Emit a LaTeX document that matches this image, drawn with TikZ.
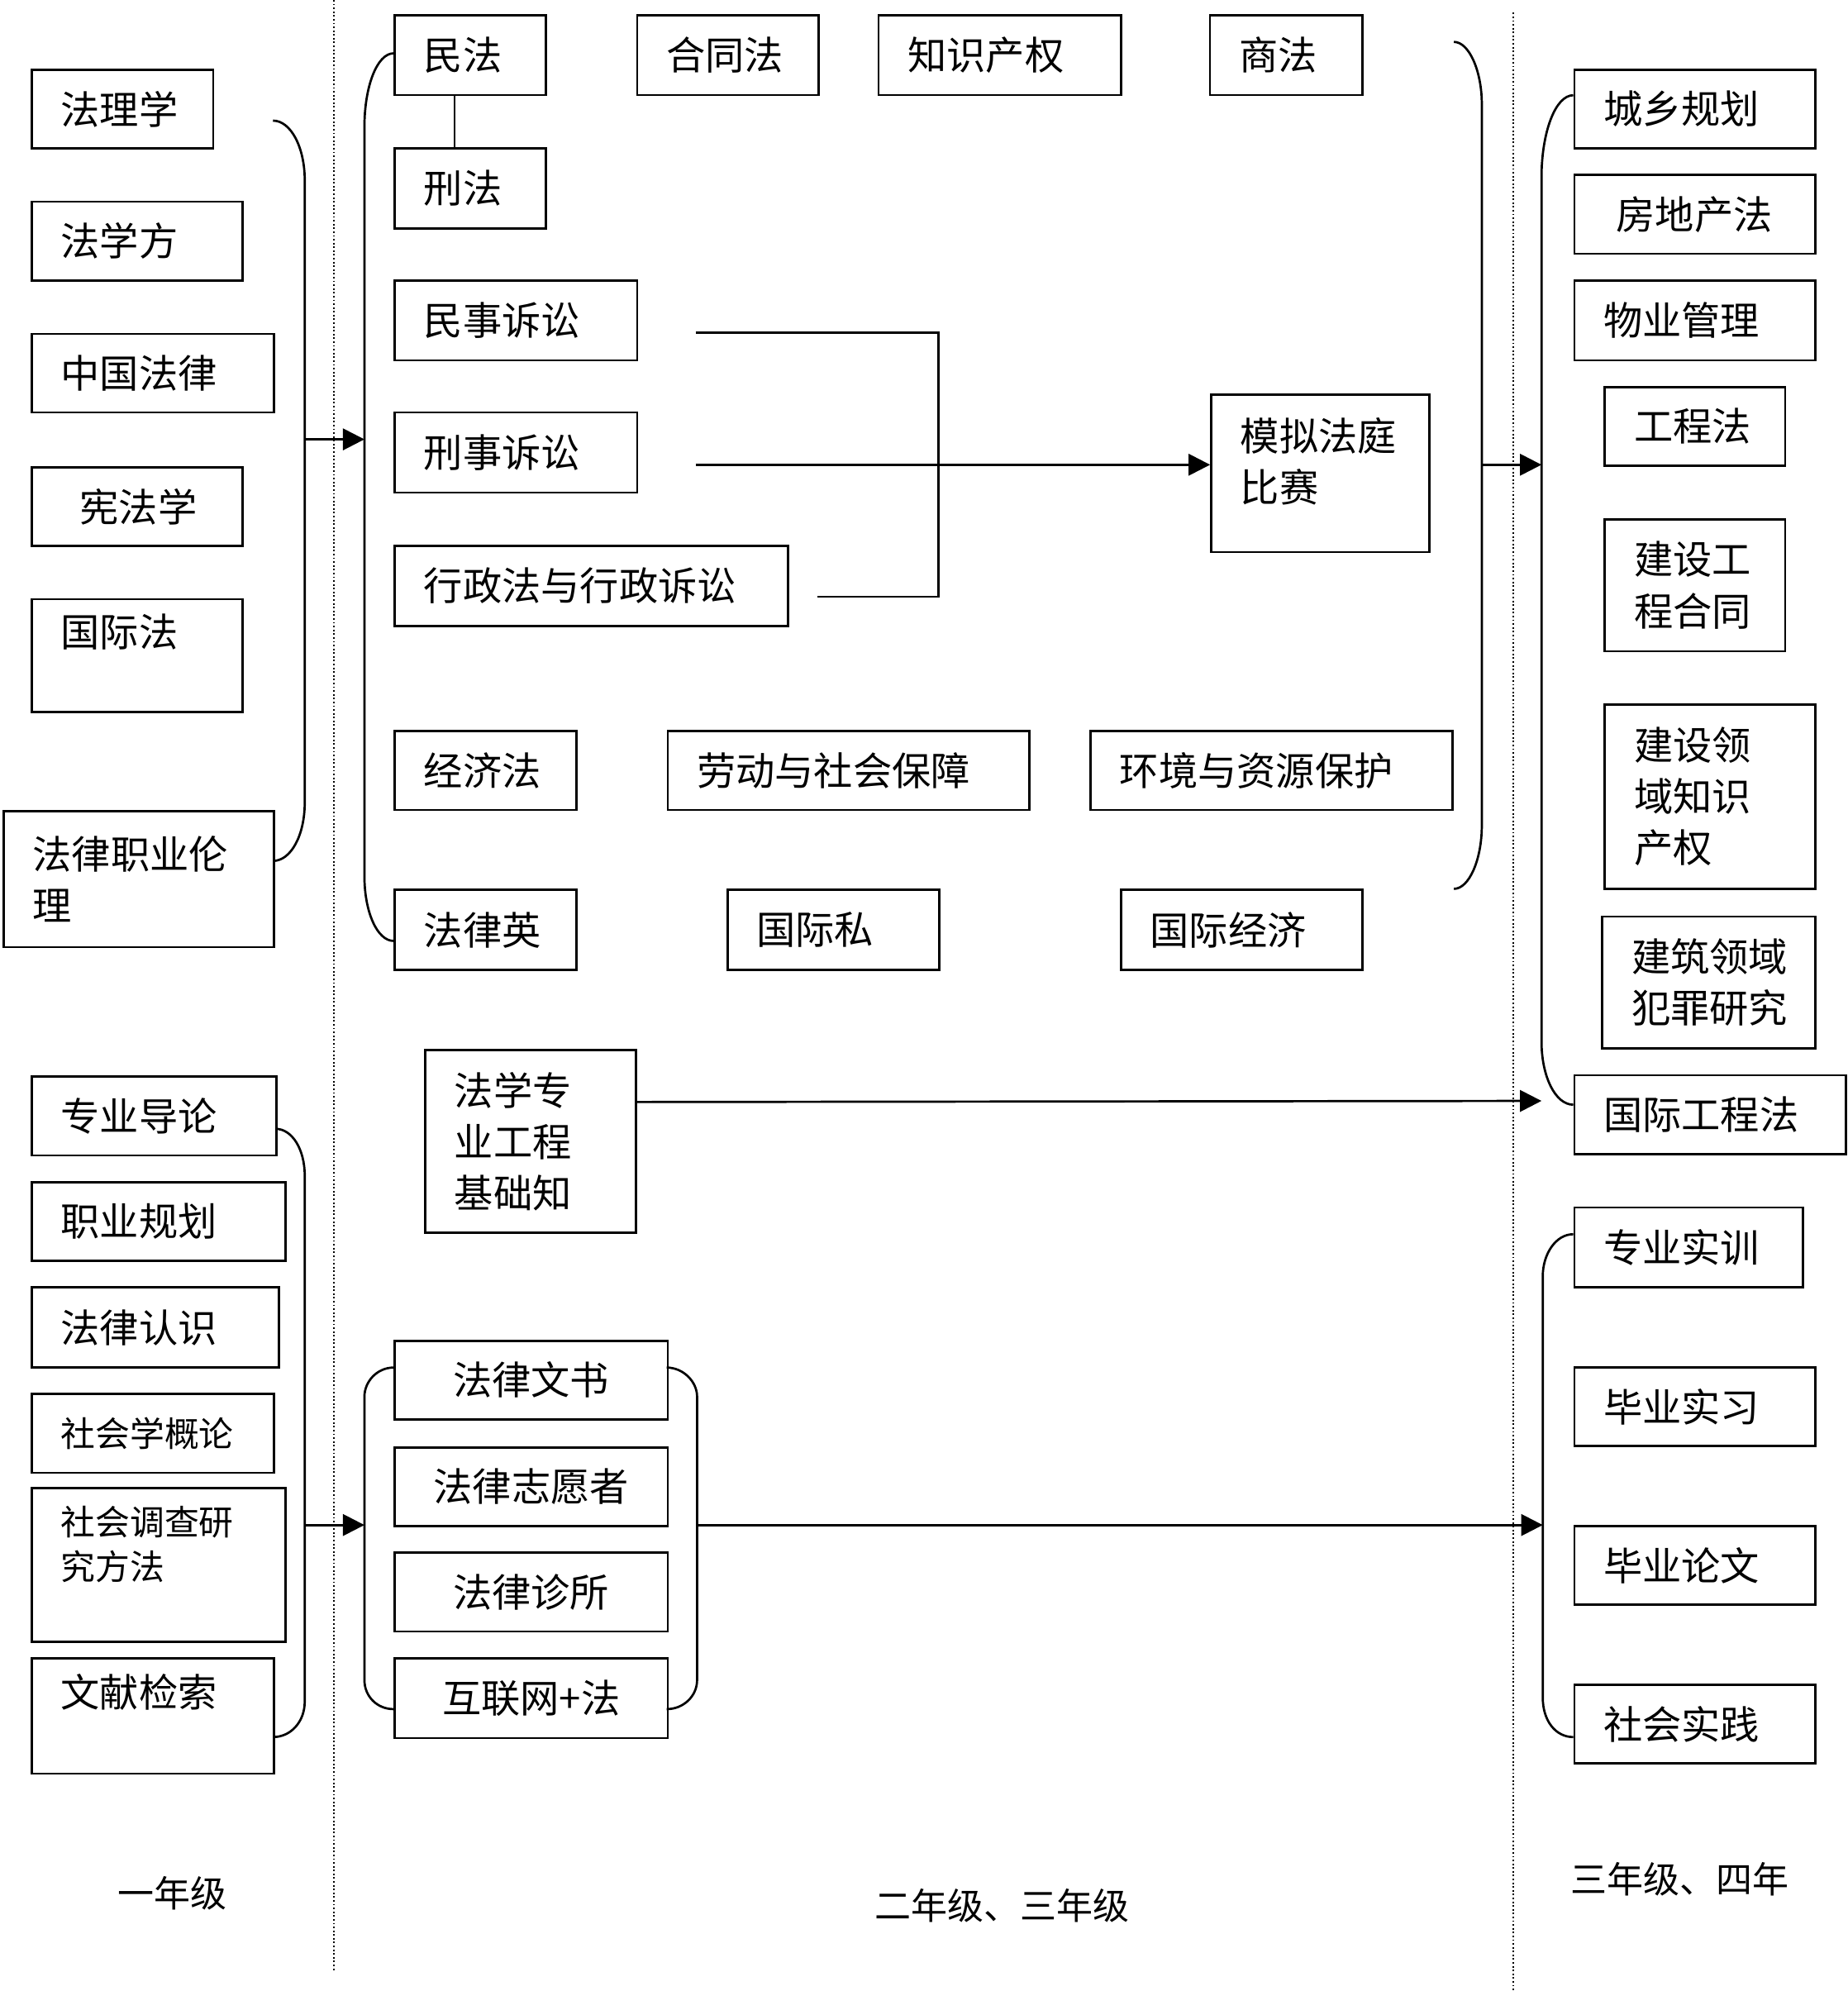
\documentclass[tikz,border=0pt]{standalone}
\usepackage{fontspec}
\newfontfamily\cjk{Noto Sans CJK SC}
\usetikzlibrary{arrows.meta}

\tikzset{
  course/.style={draw, line width=1pt, anchor=north west, align=left,
    inner xsep=0.46cm, inner ysep=0pt, font=\cjk\fontsize{17.5pt}{23pt}\selectfont},
  midcourse/.style={course, align=center},
  smallfont/.style={font=\cjk\fontsize{15.5pt}{20pt}\selectfont},
  yearlbl/.style={font=\cjk\fontsize{16.3pt}{20pt}\selectfont},
  brace/.style={line width=1pt},
  sep/.style={densely dotted, line width=0.7pt},
}

\begin{document}
\begin{tikzpicture}[x=0.02cm,y=-0.02cm,>={Triangle[length=0.34cm,width=0.34cm]}]

\useasboundingbox (0,0) rectangle (1455,1568);

% year separators
\draw[sep] (263,0) -- (263,1553);
\draw[sep] (1192,10) -- (1192,1568);

% first year
\node[course, text width=1.94cm, minimum height=1.24cm] (flx) at (24,54) {法理学};
\node[course, text width=2.40cm, minimum height=1.24cm] (fxf) at (24,158) {法学方};
\node[course, text width=2.90cm, minimum height=1.24cm] (zgfl) at (24,262) {中国法律};
\node[course, text width=2.40cm, minimum height=1.24cm] (xfx) at (24,367) {\hspace*{0.3cm}宪法学};
\node[course, text width=2.40cm, minimum height=1.78cm] (gjf) at (24,471) {国际法\\~};
\node[course, text width=3.34cm, minimum height=2.14cm] (flzy) at (2,638) {法律职业伦\\理};

\node[course, text width=2.94cm, minimum height=1.24cm] (zydl) at (24,847) {专业导论};
\node[course, text width=3.08cm, minimum height=1.24cm] (zygh) at (24,930) {职业规划};
\node[course, text width=2.98cm, minimum height=1.26cm] (flrs) at (24,1013) {法律认识};
\node[course, smallfont, text width=2.90cm, minimum height=1.24cm] (shxgl) at (24,1097) {社会学概论};
\node[course, smallfont, text width=3.08cm, minimum height=2.42cm] (shdc) at (24,1171) {社会调查研\\究方法\\~};
\node[course, text width=2.90cm, minimum height=1.82cm] (wxjs) at (24,1305) {文献检索\\~};

% second and third year
\node[course, text width=1.46cm, minimum height=1.26cm] (minfa) at (310,11) {民法};
\node[course, text width=1.46cm, minimum height=1.26cm] (xingfa) at (310,116) {刑法};
\node[course, text width=1.94cm, minimum height=1.26cm] (htf) at (501,11) {合同法};
\node[course, text width=2.90cm, minimum height=1.26cm] (zscq) at (691,11) {知识产权};
\node[course, text width=1.48cm, minimum height=1.26cm] (shangfa) at (952,11) {商法};
\node[course, text width=2.90cm, minimum height=1.26cm] (msss) at (310,220) {民事诉讼};
\node[course, text width=2.90cm, minimum height=1.26cm] (xsss) at (310,324) {刑事诉讼};
\node[course, text width=5.28cm, minimum height=1.26cm] (xzf) at (310,429) {行政法与行政诉讼};
\node[course, text width=2.52cm, minimum height=2.48cm] (mnft) at (953,310) {模拟法庭\\比赛\\[-0.38cm]~};
\node[course, text width=1.94cm, minimum height=1.24cm] (jjf) at (310,575) {经济法};
\node[course, text width=4.78cm, minimum height=1.24cm] (ldsh) at (525,575) {劳动与社会保障};
\node[course, text width=4.78cm, minimum height=1.24cm] (hjzy) at (858,575) {环境与资源保护};
\node[course, text width=1.94cm, minimum height=1.26cm] (flyy) at (310,700) {法律英};
\node[course, text width=2.42cm, minimum height=1.26cm] (gjs) at (572,700) {国际私};
\node[course, text width=2.88cm, minimum height=1.26cm] (gjjj) at (882,700) {国际经济};
\node[course, text width=2.40cm, minimum height=2.88cm] (fxzy) at (334,826) {法学专\\业工程\\基础知};

\node[midcourse, text width=3.38cm, minimum height=1.24cm] (flws) at (310,1055) {法律文书};
\node[midcourse, text width=3.38cm, minimum height=1.24cm] (flzyz) at (310,1139) {法律志愿者};
\node[midcourse, text width=3.38cm, minimum height=1.24cm] (flzs) at (310,1222) {法律诊所};
\node[midcourse, text width=3.38cm, minimum height=1.26cm] (hlw) at (310,1305) {互联网+法};

% third and fourth year
\node[course, text width=2.88cm, minimum height=1.24cm] (cxgh) at (1239,54) {城乡规划};
\node[course, text width=2.88cm, minimum height=1.24cm] (fdc) at (1239,137) {\hspace*{0.2cm}房地产法};
\node[course, text width=2.88cm, minimum height=1.26cm] (wygl) at (1239,220) {物业管理};
\node[course, text width=1.92cm, minimum height=1.24cm] (gcf) at (1263,304) {工程法};
\node[course, text width=1.92cm, minimum height=2.08cm] (jsgc) at (1263,408) {建设工\\程合同};
\node[course, text width=2.40cm, minimum height=2.90cm] (jsly) at (1263,554) {建设领\\域知识\\产权};
\node[course, text width=2.44cm, minimum height=2.08cm] (jzly) at (1261,721) {建筑领域\\犯罪研究};
\node[course, text width=3.36cm, minimum height=1.24cm] (gjgc) at (1239,846) {国际工程法};
\node[course, text width=2.68cm, minimum height=1.26cm] (zysx) at (1239,950) {专业实训};
\node[course, text width=2.88cm, minimum height=1.24cm] (bysx) at (1239,1076) {毕业实习};
\node[course, text width=2.88cm, minimum height=1.24cm] (bylw) at (1239,1201) {毕业论文};
\node[course, text width=2.88cm, minimum height=1.24cm] (shsj) at (1239,1326) {社会实践};

% year labels
\node[yearlbl] (y1) at (136,1491) {一年级};
\node[yearlbl] (y23) at (789,1501) {二年级、三年级};
\node[yearlbl] (y34) at (1323,1480) {三年级、四年};

% braces
\draw[brace] (215,95) .. controls (229,95) and (240,116) .. (240,142) -- (240,632)
  .. controls (240,658) and (229,678) .. (215,678);
\draw[brace] (310,42) .. controls (297,42) and (287,68) .. (287,100) -- (287,690)
  .. controls (287,718) and (297,741) .. (310,741);
\draw[brace] (1145,33) .. controls (1157,33) and (1167,56) .. (1167,82) -- (1167,650)
  .. controls (1167,677) and (1157,700) .. (1145,700);
\draw[brace] (1239,75) .. controls (1225,75) and (1214,104) .. (1214,140) -- (1214,820)
  .. controls (1214,848) and (1225,870) .. (1239,870);
\draw[brace] (217,889) .. controls (230,889) and (240,905) .. (240,926) -- (240,1340)
  .. controls (240,1356) and (229,1368) .. (215,1368);
\draw[brace] (310,1077) .. controls (297,1077) and (287,1088) .. (287,1100) -- (287,1323)
  .. controls (287,1336) and (297,1346) .. (310,1346);
\draw[brace] (525,1077) .. controls (538,1077) and (549,1088) .. (549,1100) -- (549,1323)
  .. controls (549,1336) and (538,1346) .. (525,1346);
\draw[brace] (1239,972) .. controls (1225,972) and (1215,988) .. (1215,1005) -- (1215,1337)
  .. controls (1215,1355) and (1225,1368) .. (1239,1368);

% connectors
\draw[brace] ([xshift=0.96cm]minfa.south west) -- ([xshift=0.96cm]xingfa.north west);

\coordinate (lit1) at (548,262);
\coordinate (lit2) at (548,366);
\coordinate (lit3) at (644,470);
\draw[brace] (lit1) -- (739,262) -- (739,470) -- (lit3);
\draw[brace,->] (lit2) -- (lit2 -| mnft.west);

\coordinate (up1) at (240,346);
\coordinate (up2) at (287,346);
\coordinate (up3) at (1167,366);
\coordinate (up4) at (1214,366);
\coordinate (up5) at (1214,867);
\draw[brace,->] (up1) -- (up2);
\draw[brace,->] (up3) -- (up4);
\draw[brace,->] ([yshift=0.62cm]fxzy.east) -- (up5);

\coordinate (lo1) at (240,1201);
\coordinate (lo2) at (287,1201);
\coordinate (lo3) at (549,1201);
\coordinate (lo4) at (1215,1201);
\draw[brace,->] (lo1) -- (lo2);
\draw[brace,->] (lo3) -- (lo4);

\end{tikzpicture}
\end{document}
